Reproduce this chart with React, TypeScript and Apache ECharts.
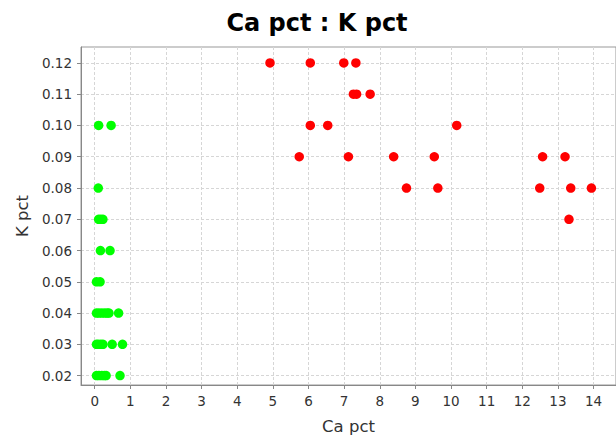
import React, { useEffect, useRef } from "react";
import * as echarts from "echarts";

const titleText = "Ca pct : K pct";
const xName = "Ca pct";
const yName = "K pct";

const xTicks = [0, 1, 2, 3, 4, 5, 6, 7, 8, 9, 10, 11, 12, 13, 14];
const yTicks = [0.02, 0.03, 0.04, 0.05, 0.06, 0.07, 0.08, 0.09, 0.1, 0.11, 0.12];

// green group (low Ca)
const greenCa = [
  0.11, 0.46,
  0.1,
  0.11, 0.17, 0.23,
  0.16, 0.43,
  0.05, 0.15,
  0.05, 0.12, 0.2, 0.28, 0.35, 0.4, 0.67,
  0.05, 0.1, 0.17, 0.23, 0.49, 0.78,
  0.05, 0.12, 0.2, 0.27, 0.32, 0.71,
];
const greenK = [
  0.1, 0.1,
  0.08,
  0.07, 0.07, 0.07,
  0.06, 0.06,
  0.05, 0.05,
  0.04, 0.04, 0.04, 0.04, 0.04, 0.04, 0.04,
  0.03, 0.03, 0.03, 0.03, 0.03, 0.03,
  0.02, 0.02, 0.02, 0.02, 0.02, 0.02,
];

// red group (high Ca)
const redCa = [
  4.92, 6.05, 6.99, 7.33,
  7.26, 7.35, 7.73,
  6.05, 6.54, 10.16,
  5.74, 7.12, 8.39, 9.53, 12.57, 13.2,
  8.75, 9.63, 12.49, 13.36, 13.94,
  13.31,
];
const redK = [
  0.12, 0.12, 0.12, 0.12,
  0.11, 0.11, 0.11,
  0.1, 0.1, 0.1,
  0.09, 0.09, 0.09, 0.09, 0.09, 0.09,
  0.08, 0.08, 0.08, 0.08, 0.08,
  0.07,
];

const zip = (xs: number[], ys: number[]) => xs.map((x, i) => [x, ys[i]]);

export default function App() {
  const ref = useRef<HTMLDivElement>(null);
  useEffect(() => {
    if (!ref.current) return;
    const chart = echarts.init(ref.current, null, { renderer: "svg" });
    const gridLine = { show: true, lineStyle: { color: "#d6d6d6", type: [3, 2], width: 1 } };
    const tickFont = { fontFamily: "DejaVu Sans", fontSize: 13.5, color: "#333" };
    chart.setOption({
      animation: false,
      backgroundColor: "#ffffff",
      title: {
        text: titleText,
        left: 312,
        top: 6,
        textAlign: "center",
        textStyle: { fontFamily: "DejaVu Sans", fontWeight: "bold", fontSize: 24, color: "#000" },
      },
      grid: {
        left: 81,
        right: 0,
        top: 47,
        bottom: 55,
        show: true,
        borderColor: "#999",
        borderWidth: 1,
        backgroundColor: "#fff",
      },
      xAxis: {
        type: "value",
        min: -0.385,
        max: 14.63,
        name: xName,
        nameLocation: "middle",
        nameGap: 33,
        nameTextStyle: { fontFamily: "DejaVu Sans", fontSize: 16.5, color: "#333" },
        axisLine: { show: true, onZero: false, lineStyle: { color: "#888" } },
        axisTick: { show: true, length: 4, customValues: xTicks, lineStyle: { color: "#888" } },
        axisLabel: { ...tickFont, margin: 9, customValues: xTicks, formatter: (v: number) => String(Math.round(v)) },
        splitLine: gridLine,
      },
      yAxis: {
        type: "value",
        min: 0.017,
        max: 0.1251,
        name: yName,
        nameLocation: "middle",
        nameGap: 50,
        nameTextStyle: { fontFamily: "DejaVu Sans", fontSize: 16.5, color: "#333" },
        axisLine: { show: true, onZero: false, lineStyle: { color: "#888" } },
        axisTick: { show: true, length: 4, customValues: yTicks, lineStyle: { color: "#888" } },
        axisLabel: { ...tickFont, margin: 9, customValues: yTicks, formatter: (v: number) => v.toFixed(2) },
        splitLine: gridLine,
      },
      series: [
        {
          name: "red",
          type: "scatter",
          symbol: "circle",
          symbolSize: 9.5,
          itemStyle: { color: "#ff0000", opacity: 1 },
          data: zip(redCa, redK),
        },
        {
          name: "green",
          type: "scatter",
          symbol: "circle",
          symbolSize: 9.5,
          itemStyle: { color: "#00ff00", opacity: 1 },
          data: zip(greenCa, greenK),
        },
      ],
    });
    return () => chart.dispose();
  }, []);
  return (
    <div
      ref={ref}
      style={{ position: "fixed", left: 0, top: 0, width: 616, height: 440 }}
    />
  );
}
